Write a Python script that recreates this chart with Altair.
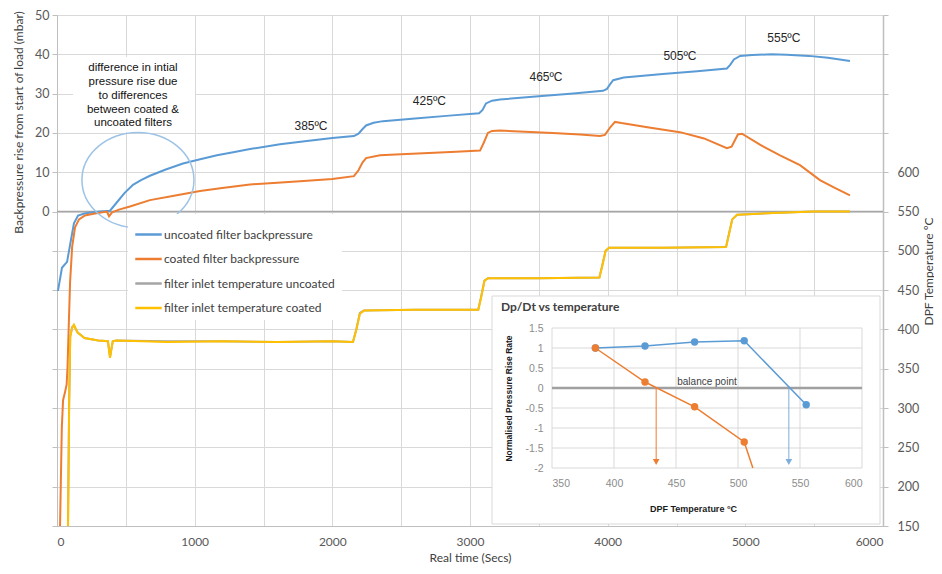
import altair as alt
import pandas as pd

# ------------------------------------------------------------------ data
uncoated_t = [7, 36, 73, 100, 123, 153, 200, 261, 312, 385, 434, 490, 552, 610, 675, 790, 915, 1040, 1162, 1280,
              1402, 1620, 1800, 2000, 2157, 2190, 2220, 2245, 2300, 2368, 2600, 2850, 3066, 3090, 3116, 3160, 3218, 3500, 3750, 3966,
              3995, 4020, 4040, 4117, 4400, 4650, 4866, 4890, 4917, 4962, 5050, 5187, 5300, 5462, 5600, 5760]
uncoated_bp = [-20.2, -14.3, -12.8, -7.5, -3.0, -1.0, -0.5, -0.2, 0.0, 0.2, 2.3, 4.7, 6.8, 8.0, 9.1, 10.7, 12.2, 13.3, 14.3, 15.1,
               15.9, 17.1, 17.9, 18.7, 19.2, 19.8, 21.0, 21.9, 22.6, 23.0, 23.7, 24.4, 25.0, 25.8, 27.5, 28.2, 28.5, 29.3, 30.0, 30.7,
               31.2, 32.5, 33.4, 34.1, 35.0, 35.7, 36.4, 37.3, 38.7, 39.6, 39.8, 40.0, 39.9, 39.6, 39.1, 38.3]

coated_t = [10, 22, 35, 44, 58, 70, 76, 82, 95, 110, 131, 160, 203, 276, 363, 378, 400, 450, 530, 675,
            850, 1039, 1200, 1402, 1600, 1765, 2000, 2157, 2190, 2220, 2245, 2346, 2500, 2700, 2900, 3073, 3100, 3130, 3160, 3218,
            3400, 3600, 3800, 3944, 3980, 4020, 4053, 4100, 4300, 4525, 4700, 4866, 4900, 4946, 4976, 5106, 5252, 5397, 5542, 5650, 5760]
coated_bp = [-95, -80, -55, -48, -46, -44, -40, -33, -18, -9, -4, -2, -1.0, -0.5, 0.0, -1.2, -0.2, 0.5, 1.3, 2.9,
             4.0, 5.2, 6.0, 6.9, 7.3, 7.7, 8.3, 9.0, 10.5, 12.5, 13.6, 14.3, 14.6, 14.9, 15.2, 15.5, 17.5, 20.0, 20.5, 20.6,
             20.3, 20.0, 19.6, 19.2, 19.5, 21.5, 22.8, 22.5, 21.4, 20.2, 18.6, 16.1, 16.5, 19.6, 19.8, 17.0, 14.3, 11.8, 8.0, 6.0, 4.1]

inlet_t = [70, 80, 88, 96, 110, 123, 150, 200, 300, 370, 385, 405, 430, 800, 1200, 1600, 2000, 2150, 2175, 2200,
           2230, 2600, 3060, 3080, 3105, 3130, 3500, 3940, 3960, 3985, 4010, 4400, 4860, 4880, 4905, 4940, 5200, 5500, 5760]
inlet_uncoated_temp = [100, 150, 305, 391, 403, 405, 396, 389, 386, 385, 365, 385, 386, 385, 385, 384, 385, 384, 401, 421,
                       424, 425, 425, 441, 462, 465, 465, 466, 481, 500, 504, 504, 505, 521, 540, 546, 548, 550, 550]
inlet_coated_temp = [100, 150, 300, 390, 402, 406, 396, 389, 386, 385, 364, 385, 386, 384, 385, 384, 385, 384, 400, 420,
                     424, 425, 425, 440, 462, 465, 465, 466, 480, 500, 504, 504, 505, 520, 540, 546, 548, 550, 550]

series_names = ["uncoated filter backpressure", "coated filter backpressure",
                "filter inlet temperature uncoated", "filter inlet temperature coated"]
series_colors = ["#5B9BD5", "#ED7D31", "#A5A5A5", "#FFC000"]

stage_labels = ["385ºC", "425ºC", "465ºC", "505ºC", "555ºC"]
stage_t = [1845, 2705, 3552, 4525, 5280]
stage_bp = [21.7, 28.2, 34.1, 39.6, 44.2]

note_text = ["difference in intial\npressure rise due\nto differences\nbetween coated &\nuncoated filters"]
note_t = [552]
note_bp = [36.4]
circle_t = [588]
circle_bp = [8.0]

x_ticks = list(range(0, 6001, 500))
bp_ticks = list(range(-80, 51, 10))
temp_ticks = list(range(150, 801, 50))

# inset: Dp/Dt vs temperature
inset_title = ["Dp/Dt vs temperature"]
inset_temps = [385, 425, 465, 505, 555]
uncoated_rate = [1.0, 1.05, 1.15, 1.18, -0.42]
coated_temps = [385, 425, 465, 505]
coated_rate = [1.0, 0.15, -0.47, -1.35]
coated_exit_temp = [512]      # coated line leaves the plot at the bottom (-2)
coated_exit_rate = [-2.0]
balance_coated = [434]
balance_uncoated = [541]
balance_label = ["balance point"]
balance_label_pos = [475, 0.15]
inset_x_ticks = [350, 400, 450, 500, 550, 600]
inset_y_ticks = [-2, -1.5, -1, -0.5, 0, 0.5, 1, 1.5]

# ------------------------------------------------------------------ frames
bp_df = pd.concat([
    pd.DataFrame({"series": series_names[0], "t": uncoated_t, "bp": uncoated_bp}),
    pd.DataFrame({"series": series_names[1], "t": coated_t, "bp": coated_bp}),
])
temp_df = pd.concat([
    pd.DataFrame({"series": series_names[2], "t": inlet_t, "temp": inlet_uncoated_temp}),
    pd.DataFrame({"series": series_names[3], "t": inlet_t, "temp": inlet_coated_temp}),
])

FONT = "Lato"
ARIAL = "Liberation Sans"
W, H = 826, 511

x_main = alt.Scale(domain=[0, 6000], nice=False, zero=False)
y_bp = alt.Scale(domain=[-80, 50], nice=False, zero=False)
y_temp = alt.Scale(domain=[150, 800], nice=False, zero=False)

x_axis = alt.Axis(orient="bottom", values=x_ticks, labelExpr="datum.value % 1000 == 0 ? '' + datum.value : ''",
                  grid=True, gridColor="#d9d9d9", domainColor="#bfbfbf", ticks=False, tickSize=0,
                  labelPadding=10, labelFont=FONT, labelFontSize=12, labelColor="#595959",
                  title="Real time (Secs)", titleFont=FONT, titleFontSize=12, titleFontWeight="normal",
                  titleColor="#404040", titleY=26, titleBaseline="top")
bp_axis = alt.Axis(orient="left", values=bp_ticks, labelExpr="datum.value < 0 ? '' : '' + datum.value",
                   grid=True, gridColor="#d9d9d9", domainColor="#bfbfbf", tickColor="#bfbfbf", tickSize=5,
                   labelPadding=3, labelFont=FONT, labelFontSize=12.5, labelColor="#595959",
                   title="Backpressure rise from start of load (mbar)", titleFont=FONT, titleFontSize=12,
                   titleFontWeight="normal", titleColor="#404040", titleAngle=-90, titleX=-39, titleY=107,
                   titleAlign="center", titleBaseline="middle")
temp_axis = alt.Axis(orient="right", values=temp_ticks, labelExpr="datum.value > 600 ? '' : '' + datum.value",
                     grid=False, domainColor="#bfbfbf", domainWidth=1.5, tickColor="#bfbfbf", tickSize=5,
                     labelPadding=9, labelFont=FONT, labelFontSize=12.5, labelColor="#595959",
                     title="DPF Temperature ºC", titleFont=FONT, titleFontSize=12, titleFontWeight="normal",
                     titleColor="#404040", titleAngle=-90, titleX=45, titleY=256, titleAlign="center",
                     titleBaseline="middle")

legend = alt.Legend(title=None, orient="none", legendX=71, legendY=199, direction="vertical",
                    symbolType="stroke", symbolSize=700, symbolStrokeWidth=2.5, labelFont=FONT,
                    labelFontSize=12, labelColor="#404040", fillColor="white", padding=6, rowPadding=3.5,
                    labelLimit=400, labelOffset=1)
color = alt.Color("series:N", scale=alt.Scale(domain=series_names, range=series_colors), legend=legend)

one = alt.Data(values=[{}])

# ------------------------------------------------------------------ main (backpressure)
note_box = alt.Chart(one).mark_rect(fill="white").encode(
    x=alt.value(16), x2=alt.value(138), y=alt.value(42), y2=alt.value(117))
zero_rule = alt.Chart(pd.DataFrame({"bp": [0]})).mark_rule(color="#a6a6a6", strokeWidth=1.5).encode(
    y=alt.Y("bp:Q", scale=y_bp, axis=bp_axis))
bp_lines = alt.Chart(bp_df).mark_line(strokeWidth=2, clip=True).encode(
    x=alt.X("t:Q", scale=x_main, axis=x_axis),
    y=alt.Y("bp:Q", scale=y_bp, axis=bp_axis),
    color=color)
ELLIPSE = "M-1,0 A1,0.85 0 1,1 1,0 A1,0.85 0 1,1 -1,0 Z"
ellipse = alt.Chart(pd.DataFrame({"t": circle_t, "bp": circle_bp})).mark_point(
    shape=ELLIPSE, size=12544, filled=False, color="#9DC3E6", strokeWidth=1.5, opacity=1).encode(
    x=alt.X("t:Q", scale=x_main, axis=x_axis), y=alt.Y("bp:Q", scale=y_bp, axis=bp_axis))
stage_text = alt.Chart(pd.DataFrame({"t": stage_t, "bp": stage_bp, "label": stage_labels})).mark_text(
    font=ARIAL, fontSize=12, color="#262626").encode(
    x=alt.X("t:Q", scale=x_main, axis=x_axis), y=alt.Y("bp:Q", scale=y_bp, axis=bp_axis), text="label:N")
note = alt.Chart(pd.DataFrame({"t": note_t, "bp": note_bp, "label": note_text})).mark_text(
    font=ARIAL, fontSize=11.5, color="#111111", lineBreak="\n", lineHeight=13.7, align="center",
    baseline="middle").encode(
    x=alt.X("t:Q", scale=x_main, axis=x_axis), y=alt.Y("bp:Q", scale=y_bp, axis=bp_axis), text="label:N")

main_bp = alt.layer(note_box, zero_rule, bp_lines, ellipse, stage_text, note)

# ------------------------------------------------------------------ main (temperature)
main_temp = alt.Chart(temp_df).mark_line(strokeWidth=2, clip=True).encode(
    x=alt.X("t:Q", scale=x_main, axis=None),
    y=alt.Y("temp:Q", scale=y_temp, axis=temp_axis),
    color=color)

# ------------------------------------------------------------------ inset
ix = alt.Scale(domain=[350, 600], range=[495, 805], nice=False, zero=False)
iy = alt.Scale(domain=[-2, 1.5], range=[453, 313], nice=False, zero=False)
ix_axis = alt.Axis(orient="bottom", offset=-58, values=inset_x_ticks, labelExpr="'' + datum.value",
                   grid=False, domain=False, ticks=False, labelPadding=10, labelFont=ARIAL,
                   labelFontSize=10.5, labelColor="#8c8c8c", title="DPF Temperature °C", titleFont=ARIAL,
                   titleFontSize=9, titleFontWeight="bold", titleColor="#1a1a1a", titleX=636, titleY=40,
                   titleAlign="center", titleBaseline="middle", zindex=1)
iy_axis = alt.Axis(orient="left", offset=-495, values=inset_y_ticks, labelExpr="'' + datum.value",
                   grid=False, domain=False, ticks=False, labelPadding=9, labelFont=ARIAL,
                   labelFontSize=10.5, labelColor="#8c8c8c", title="Normalised Pressure Rise Rate",
                   titleFont=ARIAL, titleFontSize=8.5, titleFontWeight="bold", titleColor="#1a1a1a",
                   titleAngle=-90, titleX=-44, titleY=383, titleAlign="center", titleBaseline="middle", zindex=1)


def IX(f):
    return alt.X(f, scale=ix, axis=ix_axis)


def IY(f):
    return alt.Y(f, scale=iy, axis=iy_axis)


inset_box = alt.Chart(one).mark_rect(fill="white", stroke="#d9d9d9", strokeWidth=1).encode(
    x=alt.value(435), x2=alt.value(823), y=alt.value(281), y2=alt.value(509))
inset_head = alt.Chart(pd.DataFrame({"label": inset_title})).mark_text(
    align="left", baseline="middle", font=FONT, fontSize=12, fontWeight="bold", color="#404040").encode(
    x=alt.value(444), y=alt.value(292), text="label:N")
vgrid = alt.Chart(pd.DataFrame({"temp": inset_x_ticks, "lo": inset_y_ticks[0], "hi": inset_y_ticks[-1]})).mark_rule(
    color="#d9d9d9", strokeWidth=1).encode(x=IX("temp:Q"), y=IY("lo:Q"), y2="hi:Q")
hgrid = alt.Chart(pd.DataFrame({"rate": inset_y_ticks, "lo": inset_x_ticks[0], "hi": inset_x_ticks[-1]})).mark_rule(
    color="#d9d9d9", strokeWidth=1).encode(y=IY("rate:Q"), x=IX("lo:Q"), x2="hi:Q")
balance = alt.Chart(pd.DataFrame({"rate": [0], "lo": inset_x_ticks[0], "hi": inset_x_ticks[-1]})).mark_rule(
    color="#a0a0a0", strokeWidth=2.5).encode(y=IY("rate:Q"), x=IX("lo:Q"), x2="hi:Q")
balance_txt = alt.Chart(pd.DataFrame({"temp": [balance_label_pos[0]], "rate": [balance_label_pos[1]],
                                      "label": balance_label})).mark_text(
    font=ARIAL, fontSize=10, color="#404040").encode(x=IX("temp:Q"), y=IY("rate:Q"), text="label:N")

unc_df = pd.DataFrame({"temp": inset_temps, "rate": uncoated_rate})
coa_df = pd.DataFrame({"temp": coated_temps, "rate": coated_rate})
coa_line_df = pd.DataFrame({"temp": coated_temps + coated_exit_temp, "rate": coated_rate + coated_exit_rate})

unc_line = alt.Chart(unc_df).mark_line(color="#5B9BD5", strokeWidth=1.5).encode(x=IX("temp:Q"), y=IY("rate:Q"))
unc_pts = alt.Chart(unc_df).mark_circle(color="#5B9BD5", size=55, opacity=1).encode(x=IX("temp:Q"), y=IY("rate:Q"))
coa_line = alt.Chart(coa_line_df).mark_line(color="#ED7D31", strokeWidth=1.5).encode(x=IX("temp:Q"), y=IY("rate:Q"))
coa_pts = alt.Chart(coa_df).mark_circle(color="#ED7D31", size=55, opacity=1).encode(x=IX("temp:Q"), y=IY("rate:Q"))

arr_c_df = pd.DataFrame({"temp": balance_coated, "top": [0.0], "bot": [-1.85]})
arr_u_df = pd.DataFrame({"temp": balance_uncoated, "top": [0.0], "bot": [-1.85]})
arr_c = alt.Chart(arr_c_df).mark_rule(color="#ED7D31", strokeWidth=1).encode(x=IX("temp:Q"), y=IY("top:Q"), y2="bot:Q")
arr_u = alt.Chart(arr_u_df).mark_rule(color="#7FAEDC", strokeWidth=1).encode(x=IX("temp:Q"), y=IY("top:Q"), y2="bot:Q")
tri_c = alt.Chart(arr_c_df).mark_point(shape="triangle-down", filled=True, size=45, color="#ED7D31", opacity=1).encode(
    x=IX("temp:Q"), y=IY("bot:Q"))
tri_u = alt.Chart(arr_u_df).mark_point(shape="triangle-down", filled=True, size=45, color="#7FAEDC", opacity=1).encode(
    x=IX("temp:Q"), y=IY("bot:Q"))

inset = alt.layer(inset_box, inset_head, vgrid, hgrid, balance, balance_txt,
                  arr_c, arr_u, tri_c, tri_u, unc_line, coa_line, unc_pts, coa_pts)

chart = alt.layer(main_bp, main_temp, inset).resolve_scale(
    x="independent", y="independent"
).properties(
    width=W, height=H,
    autosize=alt.AutoSizeParams(type="none"),
    padding={"left": 49, "top": 7, "right": 51, "bottom": 40},
).configure_view(strokeWidth=0)

chart.save("out.html", embed_options={"renderer": "svg", "actions": False})
